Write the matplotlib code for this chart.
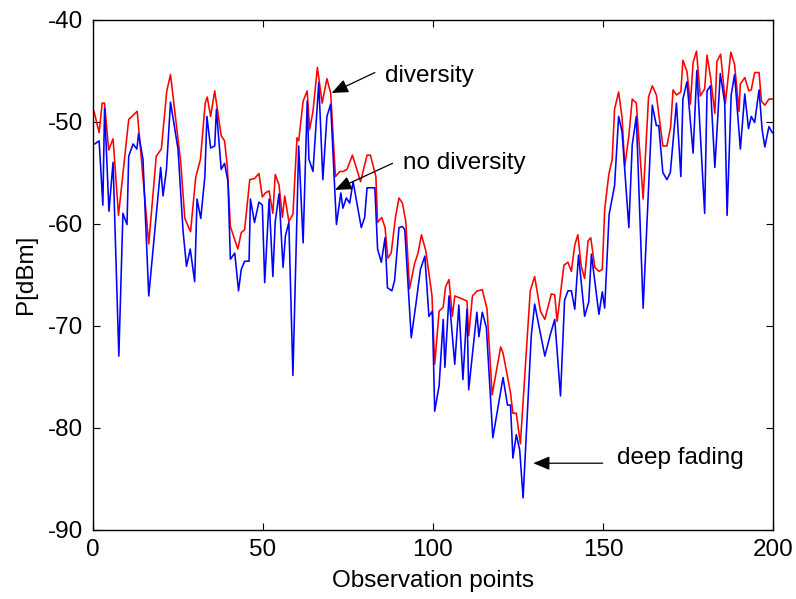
import matplotlib
matplotlib.use("Agg")
import matplotlib.pyplot as plt

plt.rcParams['font.family'] = ['Liberation Sans', 'DejaVu Sans']
plt.rcParams['axes.unicode_minus'] = False

# --- data (vertex positions) ---
red_x = [0.3, 1.8, 2.7, 3.4, 4.6, 5.9, 7.5, 10.5, 13.0, 16.4, 18.6, 20.1, 21.7, 22.8, 25.8, 27.0,
         28.7, 30.2, 31.6, 33.0, 33.6, 34.6, 35.8, 37.7, 38.7, 39.5, 40.4, 42.6, 43.6, 44.6, 46.1,
         47.5, 48.8, 49.8, 50.7, 51.8, 52.9, 53.6, 54.7, 55.7, 56.4, 57.6, 58.8, 60.0, 60.5, 61.8,
         63.0, 63.7, 64.7, 66.0, 67.4, 68.8, 69.9, 71.3, 72.6, 73.5, 74.7, 76.3, 78.7, 80.6, 81.6,
         83.2, 83.7, 84.9, 85.9, 86.7, 87.7, 89.0, 90.0, 91.0, 92.0, 93.1, 94.6, 95.6, 96.6, 97.9,
         99.7, 100.5, 101.8, 103.0, 103.7, 104.7, 105.7, 106.4, 107.9, 110.0, 110.5, 111.6, 113.0,
         114.5, 115.9, 117.4, 119.9, 120.6, 122.8, 123.5, 124.5, 125.7, 128.6, 129.9, 131.6, 132.9,
         134.8, 135.8, 136.5, 138.5, 139.7, 140.7, 141.7, 142.6, 143.6, 144.6, 145.6, 146.4, 147.6,
         148.8, 149.8, 150.5, 151.7, 152.7, 153.4, 154.6, 155.6, 156.4, 157.6, 158.6, 159.8, 161.8,
         163.4, 164.5, 165.7, 167.6, 168.8, 169.9, 170.6, 171.6, 172.9, 173.5, 174.7, 175.7, 176.5,
         177.5, 178.6, 179.9, 180.6, 181.6, 182.9, 183.5, 184.6, 186.0, 187.6, 188.7, 190.0, 190.4,
         191.7, 192.9, 193.6, 194.6, 195.9, 196.6, 197.6, 198.8, 199.8]
red_y = [-49.0, -51.1, -48.2, -48.2, -52.8, -51.7, -59.2, -49.8, -49.0, -62.0, -53.4, -52.7, -47.0,
         -45.4, -54.0, -59.5, -60.8, -55.5, -53.7, -48.2, -47.6, -49.5, -47.0, -51.4, -51.9, -54.4,
         -60.3, -62.5, -60.9, -60.6, -55.7, -55.6, -55.1, -57.4, -57.0, -56.8, -59.0, -55.2, -56.2,
         -59.4, -57.3, -59.8, -59.1, -51.6, -51.9, -48.0, -47.0, -50.8, -49.0, -44.7, -48.2, -45.8,
         -47.2, -55.4, -54.9, -54.9, -54.7, -53.3, -55.9, -53.3, -53.3, -55.4, -59.9, -59.4, -60.4,
         -63.4, -62.9, -59.3, -57.5, -58.0, -59.8, -66.4, -63.9, -62.9, -61.1, -62.7, -67.1, -73.8,
         -68.6, -68.2, -66.2, -65.5, -69.1, -67.1, -67.3, -67.6, -71.0, -67.1, -66.6, -66.5, -68.4,
         -76.8, -72.1, -72.7, -76.6, -78.6, -78.6, -81.6, -66.6, -65.2, -68.6, -69.4, -66.9, -67.0,
         -69.6, -64.1, -63.8, -64.7, -62.1, -61.1, -64.2, -65.4, -61.7, -61.4, -64.3, -64.7, -64.5,
         -58.6, -55.2, -53.7, -48.8, -47.1, -49.6, -54.4, -51.4, -47.8, -48.2, -57.6, -47.6, -46.5,
         -47.4, -52.4, -52.4, -50.5, -46.9, -47.4, -47.1, -44.0, -45.1, -48.3, -44.2, -43.1, -47.5,
         -46.8, -43.5, -45.6, -49.2, -44.1, -43.4, -48.2, -43.2, -44.4, -49.0, -46.3, -45.7, -47.0,
         -46.9, -45.2, -45.2, -48.0, -48.4, -47.8, -47.8]

blue_x = [0.5, 1.8, 2.9, 3.4, 4.7, 5.9, 7.6, 8.8, 10.0, 10.5, 11.8, 12.9, 13.4, 14.7, 16.4, 19.9,
          20.6, 21.6, 22.8, 25.0, 26.5, 27.5, 28.6, 29.9, 30.6, 31.7, 32.9, 33.5, 34.6, 35.8, 36.3,
          37.7, 38.7, 39.7, 40.4, 41.7, 42.8, 43.6, 44.6, 45.9, 46.3, 47.5, 48.8, 49.8, 50.5, 51.8,
          52.9, 53.6, 54.7, 55.9, 56.6, 57.6, 58.8, 60.5, 61.8, 63.0, 63.5, 64.7, 66.4, 67.6, 68.8,
          69.9, 71.6, 72.9, 73.5, 74.5, 75.5, 76.5, 78.9, 79.9, 80.6, 82.9, 83.7, 84.8, 85.9, 86.6,
          87.9, 88.7, 90.0, 91.0, 91.7, 93.6, 94.9, 96.3, 97.6, 98.8, 99.8, 100.5, 101.8, 103.0,
          103.5, 104.7, 106.4, 107.6, 108.8, 110.0, 110.5, 112.9, 113.5, 114.5, 115.7, 117.6, 119.9,
          120.6, 121.9, 122.8, 123.5, 124.5, 125.5, 126.5, 128.9, 129.9, 131.2, 132.9, 134.5, 135.8,
          137.5, 138.7, 139.7, 140.7, 141.7, 142.8, 144.6, 145.8, 146.6, 148.8, 149.8, 150.5, 151.8,
          153.4, 154.6, 155.6, 157.6, 158.6, 159.8, 161.8, 164.5, 165.7, 166.4, 167.6, 168.8, 169.8,
          171.6, 172.9, 173.5, 174.7, 176.5, 177.6, 179.9, 180.6, 181.6, 182.9, 184.5, 185.8, 186.5,
          187.7, 188.7, 190.4, 191.7, 192.8, 193.6, 194.6, 195.9, 196.8, 197.6, 198.8, 199.8]
blue_y = [-52.2, -51.9, -58.2, -48.7, -58.8, -54.0, -73.0, -59.0, -60.1, -53.4, -52.2, -52.7, -51.2,
          -53.7, -67.1, -54.5, -57.3, -54.7, -48.1, -52.7, -60.8, -64.2, -62.5, -65.7, -57.6, -59.5,
          -55.4, -49.5, -52.6, -52.4, -48.8, -54.7, -54.1, -55.9, -63.5, -62.9, -66.6, -64.5, -63.7,
          -63.7, -57.6, -59.9, -57.9, -58.2, -65.8, -57.6, -65.2, -59.8, -57.1, -64.3, -61.2, -59.9,
          -74.9, -52.4, -61.9, -48.0, -53.7, -54.9, -46.2, -55.7, -49.5, -48.3, -60.1, -57.0, -58.5,
          -57.5, -58.0, -55.9, -60.4, -59.4, -56.5, -56.5, -62.5, -63.8, -61.4, -66.3, -66.6, -65.6,
          -60.4, -60.3, -60.6, -71.2, -68.1, -64.5, -63.2, -69.1, -68.6, -78.4, -75.9, -69.4, -74.1,
          -67.1, -73.8, -68.0, -75.3, -68.4, -76.3, -68.7, -71.1, -68.7, -70.2, -81.0, -76.5, -75.1,
          -77.8, -77.8, -83.0, -80.7, -82.2, -86.9, -71.0, -67.9, -70.1, -73.0, -70.9, -69.4, -76.9,
          -67.5, -66.6, -66.6, -68.4, -63.1, -69.1, -67.7, -63.0, -68.9, -66.7, -68.3, -59.1, -56.3,
          -49.5, -51.0, -60.4, -52.3, -49.5, -68.3, -48.4, -50.4, -50.4, -55.0, -55.7, -55.0, -48.2,
          -55.4, -47.8, -46.1, -53.1, -45.0, -59.0, -47.0, -46.5, -54.5, -45.3, -48.2, -59.2, -47.4,
          -45.4, -52.7, -47.3, -50.7, -49.5, -50.1, -46.9, -50.8, -52.5, -50.5, -51.1]

x_ticks = [0, 50, 100, 150, 200]
y_ticks = [-90, -80, -70, -60, -50, -40]

notes = ["diversity", "no diversity", "deep fading"]

W, H = 796, 599
fig = plt.figure(figsize=(W / 100, H / 100), dpi=100)
ax = fig.add_axes([93 / W, 1 - 529.5 / H, (773 - 93) / W, (529.5 - 19.5) / H])

ax.plot(red_x, red_y, color='#ff0000', lw=1.15)
ax.plot(blue_x, blue_y, color='#0000ff', lw=1.15)

ax.set_xlim(0, 200)
ax.set_ylim(-90, -40)
ax.set_xticks(x_ticks)
ax.set_yticks(y_ticks)
ax.tick_params(direction='in', length=5, width=0.8, top=True, right=True,
               labelsize=17.5, pad=7, colors='black')
for s in ax.spines.values():
    s.set_linewidth(1.0)
    s.set_color('black')

ax.set_xlabel("Observation points", fontsize=17.5, labelpad=6)
ax.set_ylabel("P[dBm]", fontsize=17.5, labelpad=8)

arrow = dict(arrowstyle='-|>,head_length=1.0,head_width=0.42', color='black', lw=0.9,
             shrinkA=0, shrinkB=0)
ax.annotate("", xy=(70.2, -47.2), xytext=(82.9, -45.2), arrowprops=arrow)
ax.annotate("", xy=(71.2, -56.7), xytext=(88.1, -54.1), arrowprops=arrow)
ax.annotate("", xy=(129.5, -83.5), xytext=(149.9, -83.5), arrowprops=arrow)
ax.text(85.9, -46.1, notes[0], fontsize=17.5, va='baseline', ha='left')
ax.text(91.3, -54.7, notes[1], fontsize=17.5, va='baseline', ha='left')
ax.text(154.0, -83.6, notes[2], fontsize=17.5, va='baseline', ha='left')

fig.savefig("out.png", dpi=100)
